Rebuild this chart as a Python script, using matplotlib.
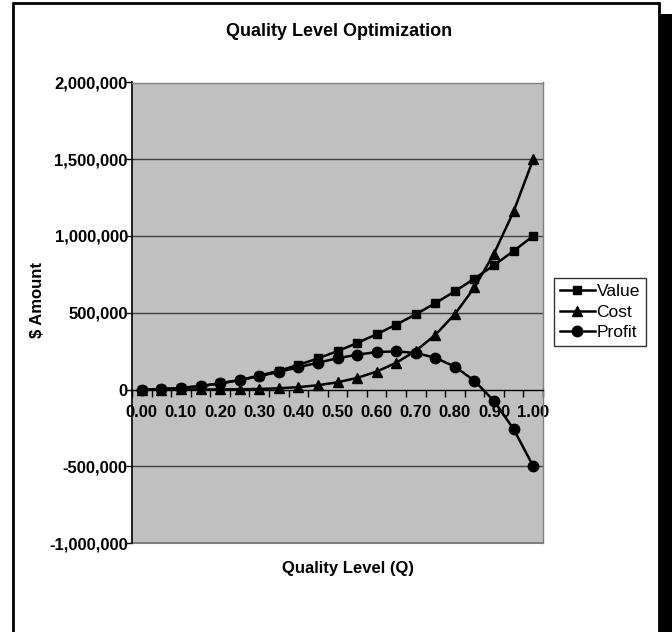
import numpy as np
import matplotlib
matplotlib.use("Agg")
import matplotlib.pyplot as plt
import matplotlib.patches as patches
from matplotlib.ticker import FixedLocator, FuncFormatter

plt.rcParams['font.family'] = ['Liberation Sans', 'DejaVu Sans']

quality = ['0.00', '0.05', '0.10', '0.15', '0.20', '0.25', '0.30', '0.35', '0.40', '0.45',
           '0.50', '0.55', '0.60', '0.65', '0.70', '0.75', '0.80', '0.85', '0.90', '0.95', '1.00']
value = [0, 2500, 10000, 22500, 40000, 62500, 90000, 122500, 160000, 202500, 250000,
         302500, 360000, 422500, 490000, 562500, 640000, 722500, 810000, 902500, 1000000]
cost = [0, 0, 15, 110, 480, 1500, 3600, 7900, 15400, 27700, 46900,
        75500, 116600, 174000, 252000, 356000, 491500, 665600, 885700, 1160500, 1500000]
profit = [0, 2500, 10000, 22400, 39500, 61000, 86400, 114600, 144600, 174800, 203100,
          227000, 243400, 248500, 237900, 206500, 148500, 56900, -75700, -258000, -500000]

W, H = 672, 632
fig = plt.figure(figsize=(W / 100, H / 100), dpi=100)

# outer chart frame and shadow (pixel coords)
def px_rect(x0, y0, x1, y1, **kw):
    r = patches.Rectangle((x0 / W, 1 - y1 / H), (x1 - x0) / W, (y1 - y0) / H,
                          transform=fig.transFigure, **kw)
    fig.patches.append(r)

px_rect(659, 14, 672, 640, facecolor='black', edgecolor='none')
px_rect(13, 3, 659, 645, facecolor='none', edgecolor='black', linewidth=2)

ax = fig.add_axes([132 / W, 1 - 543 / H, (543 - 132) / W, (543 - 82.5) / H])
ax.set_facecolor('#c0c0c0')

x = np.arange(len(quality))
ax.set_xlim(-0.5, len(quality) - 0.5)
ax.set_ylim(-1000000, 2000000)

for yv in [-500000, 500000, 1000000, 1500000]:
    ax.axhline(yv, color='#404040', linewidth=1, zorder=1)

lw = 1.8
ax.plot(x, value, color='black', marker='s', markersize=6, linewidth=lw, label='Value', zorder=3)
ax.plot(x, cost, color='black', marker='^', markersize=7.5, linewidth=lw, label='Cost', zorder=3)
ax.plot(x, profit, color='black', marker='o', markersize=7.5, linewidth=lw, label='Profit', zorder=3)

# spines
for s in ['top', 'right']:
    ax.spines[s].set_color('#808080')
    ax.spines[s].set_linewidth(1)
ax.spines['left'].set_color('black')
ax.spines['left'].set_linewidth(1.2)
ax.spines['bottom'].set_position(('data', 0))
ax.spines['bottom'].set_color('black')
ax.spines['bottom'].set_linewidth(1)
ax.plot([0, 1], [0, 0], transform=ax.transAxes, color='#808080', linewidth=1.5, clip_on=False)

# y axis
ax.set_yticks([-1000000, -500000, 0, 500000, 1000000, 1500000, 2000000])
ax.yaxis.set_major_formatter(FuncFormatter(lambda v, p: f'{int(v):,}'))
ax.tick_params(axis='y', direction='out', length=4, width=1, pad=-1, labelsize=12)
for lab in ax.get_yticklabels():
    lab.set_fontweight('bold')

# x axis: ticks between categories, labels every other category
ax.xaxis.set_major_locator(FixedLocator(np.arange(-0.5, len(quality), 1.0)))
ax.xaxis.set_major_formatter(FuncFormatter(lambda v, p: ''))
ax.xaxis.set_minor_locator(FixedLocator(x[::2]))
ax.xaxis.set_minor_formatter(FuncFormatter(lambda v, p: quality[int(round(v))]))
ax.tick_params(axis='x', which='major', direction='out', length=5, width=1)
ax.tick_params(axis='x', which='minor', length=0, pad=11, labelsize=12)
for lab in ax.get_xticklabels(minor=True):
    lab.set_fontweight('bold')

fig.text(339 / W, 1 - 32 / H, 'Quality Level Optimization', ha='center', va='center',
         fontsize=13, fontweight='bold')
fig.text(348 / W, 1 - 569 / H, 'Quality Level (Q)', ha='center', va='center',
         fontsize=12, fontweight='bold')
fig.text(37 / W, 1 - 300 / H, '$ Amount', ha='center', va='center', rotation=90,
         fontsize=12, fontweight='bold')

leg = fig.legend(loc='center', bbox_to_anchor=(600 / W, 1 - 312 / H), frameon=True,
                 fancybox=False, edgecolor='black', fontsize=12.5, handlelength=2.0,
                 handletextpad=0.1, borderpad=0.35, labelspacing=0.3, borderaxespad=0)
leg.get_frame().set_linewidth(1)

fig.savefig('out.png', dpi=100)
